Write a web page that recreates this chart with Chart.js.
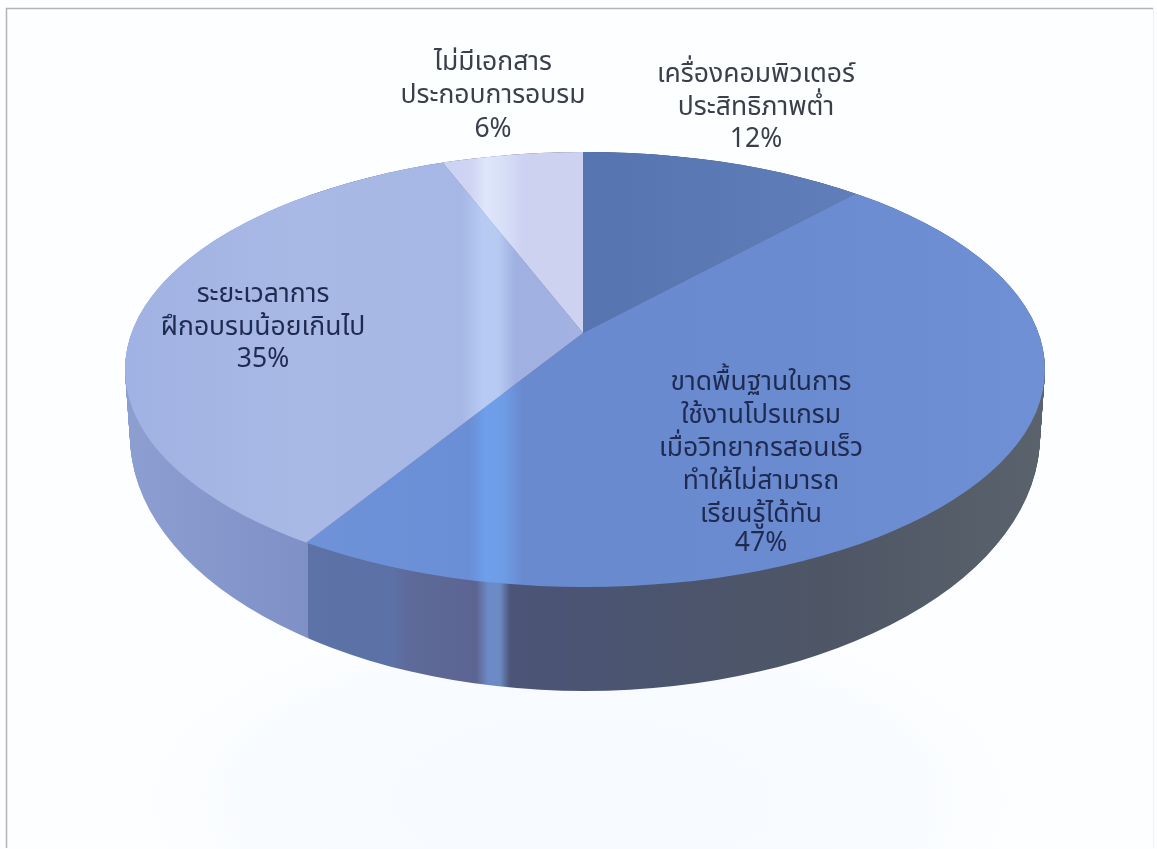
<!DOCTYPE html>
<html><head><meta charset="utf-8">
<style>
html,body{margin:0;padding:0;background:#fdfeff;}
body{width:1157px;height:849px;overflow:hidden;background:radial-gradient(ellipse 440px 190px at 580px 800px,#f7faff 0,#f8fbff 75%,rgba(253,254,255,0) 100%),#fdfeff;}
canvas{display:block;}
</style>
<script src="https://cdn.jsdelivr.net/npm/chart.js@4/dist/chart.umd.min.js"></script>
</head><body>
<canvas id="c" width="1157" height="849"></canvas>
<script>
const categories = [
  ["เครื่องคอมพิวเตอร์","ประสิทธิภาพต่ำ"],
  ["ขาดพื้นฐานในการ","ใช้งานโปรแกรม","เมื่อวิทยากรสอนเร็ว","ทำให้ไม่สามารถ","เรียนรู้ได้ทัน"],
  ["ระยะเวลาการ","ฝึกอบรมน้อยเกินไป"],
  ["ไม่มีเอกสาร","ประกอบการอบรม"]
];
const values = [12, 47, 35, 6];
const baseColors = ["#5a78b4","#6d8ed2","#a4b5e3","#cdd2f0"];

// Style only: shading bands, picture geometry, label anchors
const topBands = [
  [[583,"#5674b0"],[700,"#5a78b4"],[860,"#5f7eba"]],
  [[300,"#6f92d8"],[470,"#6a8fd6"],[486,"#6e9fea"],[503,"#6e9de6"],[522,"#6a8ad0"],[800,"#6b8bd0"],[1045,"#6f90d4"]],
  [[125,"#a0b2e3"],[300,"#a9b9e6"],[462,"#a6b7e5"],[482,"#b6caf3"],[498,"#b6caf1"],[516,"#9fb0e1"],[583,"#a3b2e2"]],
  [[440,"#cbd1f0"],[470,"#ced4f2"],[486,"#dde6fa"],[503,"#d8e0f8"],[522,"#cdd2f2"],[583,"#cdd2f0"]]
];
const wallBands = {
  1: [[300,"#5c72a8"],[392,"#5c72a6"],[408,"#5e6a9a"],[476,"#5c6492"],[488,"#6c8ac6"],[500,"#6c8ac4"],[510,"#4c5478"],[620,"#4b5470"],[820,"#4e5666"],[1045,"#5a626c"]],
  2: [[125,"#8d9ed1"],[310,"#7f90c7"]]
};
const view = {ax:583, ay:333, A:453.5, B:211.4, k:0.1678, spread:0.97,
  ex:585, ey:369.5, rx:460, ry:217.5,
  bx:585, by:436, brx:455, bry:255};
const labelAnchors = [
  {x:756,ys:[77,110,142],color:"#3a3f4c"},
  {x:761,ys:[385,418,451,484,517,546],color:"#1f2a50"},
  {x:263,ys:[297,330,362],color:"#1f2a50"},
  {x:493,ys:[65,98,132],color:"#3a3f4c"}
];

function project(a, s){
  const u = Math.cos(a)*s, v = -Math.sin(a)*s, w = 1 + view.k*v;
  return {x:view.ax + view.spread*view.A*u/w, y:view.ay - view.B*v/w};
}
function drawFullEllipse(ctx, arc, cx, cy, rx, ry, bands){
  const R = arc.outerRadius;
  const save = {s:arc.startAngle, e:arc.endAngle, c:arc.circumference, o:arc.options};
  ctx.save();
  ctx.translate(cx, cy);
  ctx.scale(rx/R, ry/R);
  ctx.translate(-arc.x, -arc.y);
  const toLocal = sx => arc.x + (sx-cx)*R/rx;
  const x0 = bands[0][0], x1 = bands[bands.length-1][0];
  const g = ctx.createLinearGradient(toLocal(x0),0,toLocal(x1),0);
  bands.forEach(b => g.addColorStop((b[0]-x0)/(x1-x0), b[1]));
  arc.startAngle = 0; arc.endAngle = Math.PI*2; arc.circumference = Math.PI*2;
  arc.options = Object.assign({}, save.o, {backgroundColor:g, borderWidth:0, borderColor:"transparent"});
  arc.draw(ctx);
  arc.startAngle = save.s; arc.endAngle = save.e; arc.circumference = save.c; arc.options = save.o;
  ctx.restore();
}
const pie3d = {
  id:"pie3d",
  beforeDraw(chart){
    const ctx = chart.ctx;
    ctx.save();
    ctx.strokeStyle = "#b4b4b4"; ctx.lineWidth = 1.5;
    ctx.beginPath(); ctx.moveTo(6.5,848); ctx.lineTo(6.5,8.5); ctx.lineTo(1153,8.5); ctx.stroke();
    ctx.strokeStyle = "#eef0f3"; ctx.lineWidth = 1;
    ctx.beginPath(); ctx.moveTo(1153.5,8.5); ctx.lineTo(1153.5,848); ctx.stroke();
    ctx.restore();
  },
  beforeDatasetDraw(chart, args){
    const ctx = chart.ctx, arcs = args.meta.data;
    const split = project(arcs[1].endAngle, 1).x;
    [2,1].forEach(i => {
      ctx.save();
      ctx.beginPath();
      if(i===2) ctx.rect(0,0,split,849); else ctx.rect(split,0,1157-split,849);
      ctx.clip();
      const n = 80;
      for(let t=0;t<=n;t++){
        const f=t/n;
        drawFullEllipse(ctx, arcs[i],
          view.ex+(view.bx-view.ex)*f, view.ey+(view.by-view.ey)*f,
          view.rx+(view.brx-view.rx)*f, view.ry+(view.bry-view.ry)*f, wallBands[i]);
      }
      ctx.restore();
    });
    arcs.forEach((arc,i) => {
      ctx.save();
      ctx.beginPath();
      ctx.moveTo(view.ax, view.ay);
      const steps = 90;
      for(let s=0;s<=steps;s++){
        const p = project(arc.startAngle + (arc.endAngle-arc.startAngle)*s/steps, 1.15);
        ctx.lineTo(p.x,p.y);
      }
      ctx.closePath();
      ctx.clip();
      drawFullEllipse(ctx, arc, view.ex, view.ey, view.rx, view.ry, topBands[i]);
      ctx.restore();
    });
    return false;
  },
  afterDraw(chart){
    const ctx = chart.ctx;
    ctx.save();
    ctx.font = '26.5px "Noto Sans Thai", Tahoma, "Noto Sans", "DejaVu Sans", sans-serif';
    ctx.textAlign = "center"; ctx.textBaseline = "middle";
    categories.forEach((lines,i) => {
      const a = labelAnchors[i];
      ctx.fillStyle = a.color;
      lines.concat([values[i]+"%"]).forEach((t,j) => ctx.fillText(t, a.x, a.ys[j]));
    });
    ctx.restore();
  }
};
new Chart(document.getElementById("c"), {
  type:"pie",
  data:{labels:categories.map(l=>l.join(" ")), datasets:[{data:values, backgroundColor:baseColors, borderWidth:0}]},
  options:{responsive:false, animation:false, rotation:0,
    plugins:{legend:{display:false}, tooltip:{enabled:false}}},
  plugins:[pie3d]
});
</script>
</body></html>
